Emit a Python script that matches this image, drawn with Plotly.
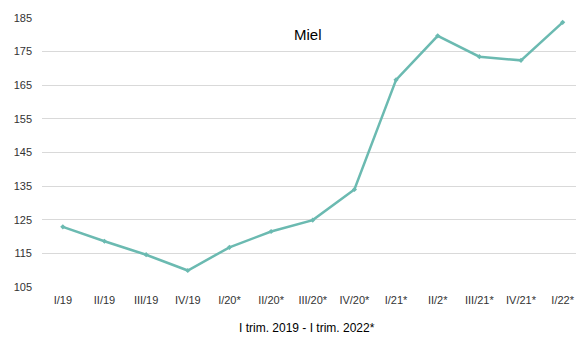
import plotly.graph_objects as go

categories = ["I/19", "II/19", "III/19", "IV/19", "I/20*", "II/20*", "III/20*", "IV/20*",
              "I/21*", "II/2*", "III/21*", "IV/21*", "I/22*"]
values = [122.9, 118.6, 114.6, 109.9, 116.8, 121.5, 124.9, 134.0,
          166.6, 179.7, 173.5, 172.4, 183.7]
y_ticks = [105, 115, 125, 135, 145, 155, 165, 175, 185]

fig = go.Figure()
fig.add_trace(go.Scatter(
    x=list(range(len(categories))), y=values, mode="lines+markers",
    line=dict(color="#6BBAB1", width=2.5),
    marker=dict(symbol="diamond", size=4, color="#6BBAB1"),
    showlegend=False, cliponaxis=False,
))

font = "Liberation Sans, Arial, sans-serif"
fig.update_layout(
    width=576, height=338,
    margin=dict(l=42, r=0, t=18, b=51, autoexpand=False),
    paper_bgcolor="white", plot_bgcolor="white",
    font=dict(family=font, size=11, color="#404040"),
    xaxis=dict(
        tickmode="array", tickvals=list(range(len(categories))), ticktext=categories,
        range=[-0.5, 12.32], showgrid=False, zeroline=False, showline=False,
        ticks="", tickfont=dict(size=11, color="#333333"), automargin=False,
        ticklabelstandoff=5,
    ),
    yaxis=dict(
        tickmode="array", tickvals=y_ticks, range=[105, 185],
        showgrid=True, gridcolor="#d9d9d9", gridwidth=1, zeroline=False,
        showline=False, ticks="", ticklabelstandoff=9, automargin=False,
        tickfont=dict(size=11, color="#333333"),
    ),
    annotations=[
        dict(text="Miel", x=0.498, y=0.937, xref="paper", yref="paper",
             showarrow=False, font=dict(size=15, color="#000000", family=font),
             xanchor="center", yanchor="middle"),
        dict(text="I trim. 2019 - I trim. 2022*", x=0.496, y=-0.152, xref="paper", yref="paper",
             showarrow=False, font=dict(size=12, color="#000000", family=font),
             xanchor="center", yanchor="middle"),
    ],
)

fig.write_html("out.html", config={"displayModeBar": False},
               post_script="document.body.style.margin='0';document.body.style.overflow='hidden';")
